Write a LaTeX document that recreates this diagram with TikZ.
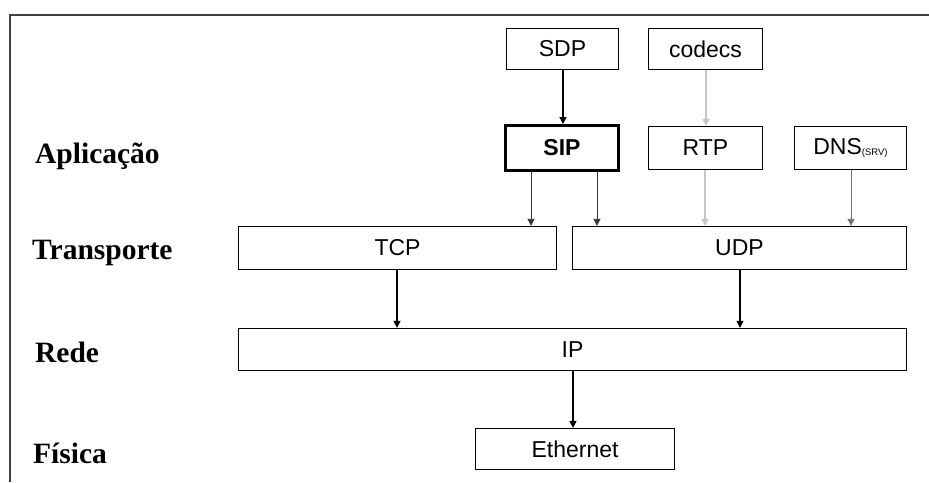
\documentclass[tikz,border=0pt]{standalone}
\usepackage{fontspec}
\setmainfont{Liberation Serif}
\setsansfont{Liberation Sans}
\usetikzlibrary{arrows.meta}
\begin{document}
\begin{tikzpicture}[x=1pt,y=-1pt,
  layerbox/.style={draw=black,line width=1.3pt,rectangle,inner sep=0pt,
    font=\sffamily\fontsize{23}{26}\selectfont,fill=white},
  layername/.style={anchor=base west,inner sep=0pt,
    font=\rmfamily\bfseries\fontsize{29.5}{32}\selectfont},
  tip/.style={-{Triangle[width=7pt,length=7pt]}},
  strong/.style={tip,line width=1.3pt,draw=black},
  thin/.style={tip,line width=0.8pt,draw=black!80},
  faint/.style={tip,line width=1.5pt,draw=black!22},
  mid/.style={tip,line width=0.9pt,draw=black!55}]
\useasboundingbox (0,0) rectangle (929,482);
\fill[white] (0,0) rectangle (929,482);
% frame
\draw[line width=2pt,draw=black!75] (10,482) -- (10,15) -- (929,15);

% layer names
\node[layername] (app) at (35,163) {Aplicação};
\node[layername] (tra) at (32,259) {Transporte};
\node[layername] (net) at (35,362) {Rede};
\node[layername] (phy) at (33,463) {Física};

% protocol boxes
\node[layerbox,minimum width=112pt,minimum height=41pt] (sdp) at (562.5,49) {SDP};
\node[layerbox,minimum width=114pt,minimum height=41pt] (codecs) at (705.5,49) {codecs};
\node[layerbox,line width=3pt,minimum width=113pt,minimum height=45pt,
  font=\sffamily\bfseries\fontsize{23}{26}\selectfont] (sip) at (562,148) {SIP};
\node[layerbox,minimum width=114pt,minimum height=43pt] (rtp) at (705.5,148) {RTP};
\node[layerbox,minimum width=112pt,minimum height=43pt] (dns) at (850.5,148)
  {DNS\raisebox{-0.5pt}{\fontsize{9.5}{10}\selectfont(SRV)}};
\node[layerbox,minimum width=318pt,minimum height=43pt] (tcp) at (397.5,248) {TCP};
\node[layerbox,minimum width=334pt,minimum height=43pt] (udp) at (739.5,248) {UDP};
\node[layerbox,minimum width=668pt,minimum height=42pt] (ip) at (572.5,349.5) {IP};
\node[layerbox,minimum width=199pt,minimum height=41pt] (eth) at (575,449) {Ethernet};

% connectors
\draw[strong] (sdp.south -| 563,0) -- (sip.north -| 563,0);
\draw[faint]  (codecs.south -| 706,0) -- (rtp.north -| 706,0);
\draw[thin]   (sip.south -| 531,0) -- (tcp.north -| 531,0);
\draw[thin]   (sip.south -| 597,0) -- (udp.north -| 597,0);
\draw[faint]  (rtp.south -| 705,0) -- (udp.north -| 705,0);
\draw[mid]    (dns.south -| 851,0) -- (udp.north -| 851,0);
\draw[strong] (tcp.south -| 397,0) -- (ip.north -| 397,0);
\draw[strong] (udp.south -| 740,0) -- (ip.north -| 740,0);
\draw[strong] (ip.south -| 573,0) -- (eth.north -| 573,0);
\end{tikzpicture}
\end{document}
